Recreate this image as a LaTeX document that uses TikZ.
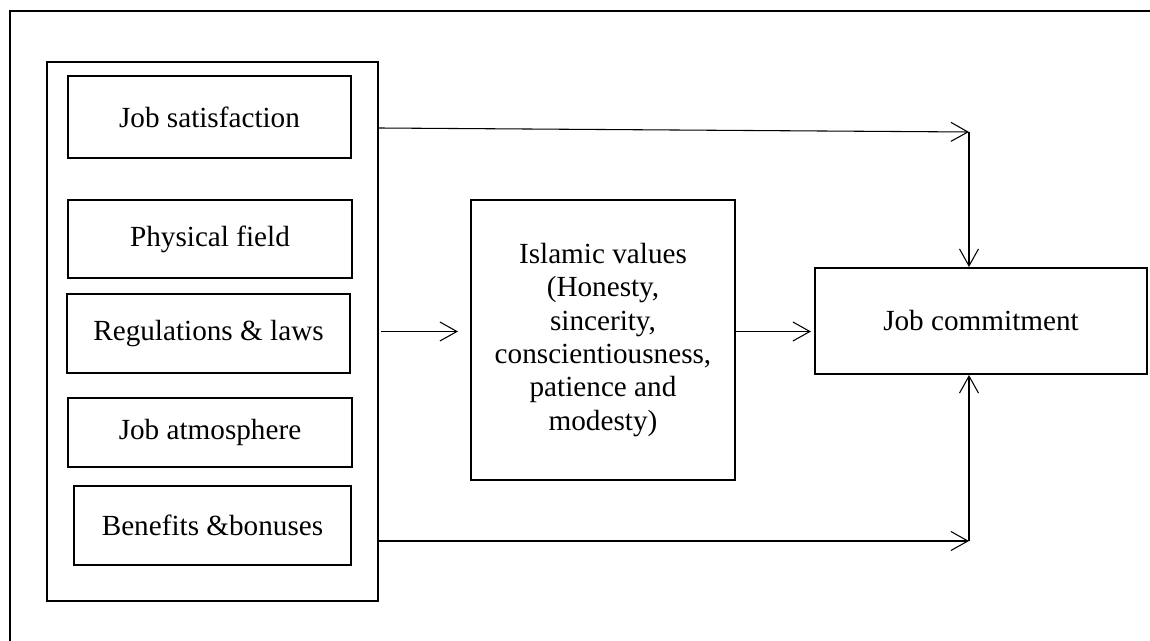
\documentclass[tikz,border=0pt]{standalone}
\usepackage{fontspec}
\setmainfont{Liberation Serif}
\usetikzlibrary{arrows.meta}
\begin{document}
\begin{tikzpicture}[x=0.75pt,y=-0.75pt,
  box/.style={draw,line width=1.5pt,inner sep=0pt,align=center,
    font=\fontsize{21.9}{25}\selectfont},
  conn/.style={line width=0.8pt,-{Straight Barb[length=17*0.75pt,width=19*0.75pt]}},
  plain/.style={line width=0.8pt}]
\useasboundingbox (0,0) rectangle (1150,641);
\draw[line width=1.6pt] (10,641) |- (1150,11);
\node[box,minimum width={331*0.75pt},minimum height={539*0.75pt}] (cont) at (212.5,331.5) {};
\node[box,minimum width={283*0.75pt},minimum height={82*0.75pt}] (js) at (209.5,117) {Job satisfaction};
\node[box,minimum width={284*0.75pt},minimum height={78*0.75pt}] (pf) at (210,239) {Physical field};
\node[box,minimum width={283*0.75pt},minimum height={79*0.75pt}] (rl) at (208.5,333.5) {Regulations \& laws};
\node[box,minimum width={284*0.75pt},minimum height={69*0.75pt}] (ja) at (210,432.5) {Job atmosphere};
\node[box,minimum width={277*0.75pt},minimum height={79*0.75pt}] (bb) at (212.5,525.5) {Benefits \&bonuses};
\node[box,minimum width={264*0.75pt},minimum height={280*0.75pt}] (isl) at (603,340)
  {Islamic values\\(Honesty,\\sincerity,\\conscientiousness,\\patience and\\modesty)};
\node[box,minimum width={332*0.75pt},minimum height={106*0.75pt}] (jc) at (981,321) {Job commitment};
\coordinate (c1) at (969,132);
\coordinate (c2) at (969,541);
\draw[conn] ([yshift=-11*0.75pt]cont.east |- js.east) -- (c1);
\draw[conn] (c1) -- (jc.north -| c1);
\draw[conn] ([yshift=-15.5*0.75pt]cont.east |- bb.east) -- (c2);
\draw[conn] (c2) -- (jc.south -| c2);
\draw[conn,shorten >=12*0.75pt] ([xshift=1.5pt]cont.east) -- (isl.west |- cont.east);
\draw[conn,shorten >=3*0.75pt] (isl.east |- cont.east) -- (jc.west |- cont.east);
\end{tikzpicture}
\end{document}
